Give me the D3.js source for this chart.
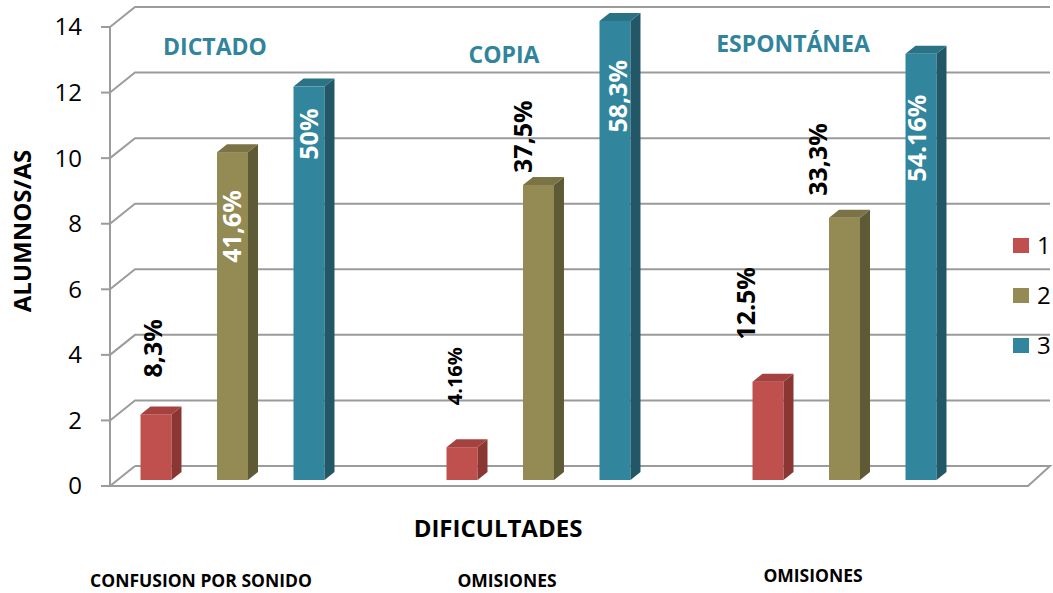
<!DOCTYPE html>
<html>
<head>
<meta charset="utf-8">
<script src="https://cdn.jsdelivr.net/npm/d3@7"></script>
<style>
  body { margin: 0; background: #fff; }
  text { font-family: "Open Sans", sans-serif; }
</style>
</head>
<body>
<div id="chart"></div>
<script>
// data
const categories = ["DICTADO", "COPIA", "ESPONTÁNEA"];
const difficulties = ["CONFUSION POR SONIDO", "OMISIONES", "OMISIONES"];
const seriesNames = ["1", "2", "3"];
const series1 = [2, 1, 3];
const series2 = [10, 9, 8];
const series3 = [12, 14, 13];
const labels1 = ["8,3%", "4.16%", "12.5%"];
const labels2 = ["41,6%", "37,5%", "33,3%"];
const labels3 = ["50%", "58,3%", "54.16%"];
const yTicks = [0, 2, 4, 6, 8, 10, 12, 14];

// label placement (manual, like the original sheet)
const labelInside = [[false, false, false], [true, false, false], [true, true, true]];
const labelGap = [[37, 42, 42], [38, 12, 22], [22, 39, 41]];
const labelDx = [[-3, -7, -22], [0, -15, -26], [0, 3, -4]];
const labelSize = [[25, 20, 25], [25, 25, 25], [25, 25, 25]];
const catLabelDx = [-10, -27, -44];
const catLabelY = [55, 63, 52];
const diffLabelY = [587, 587, 582];

const colors = [
  { front: "#C0504D", side: "#8A3734", top: "#A5423F" },
  { front: "#948A54", side: "#5F5A36", top: "#7B7345" },
  { front: "#31859C", side: "#215766", top: "#2A7386" }
];

const width = 1053, height = 593;
const depthX = 25, depthY = -20;
const floorLeft = 110, floorRight = 1028;

const svg = d3.select("#chart").append("svg")
  .attr("width", width)
  .attr("height", height);

const y = d3.scaleLinear().domain([0, 14]).range([486, 27]);
const xCat = d3.scaleBand().domain(categories).range([72, 990]);
const xSer = d3.scaleBand().domain(seriesNames).range([-137.5, 137.5]).padding(0.595);

const grid = svg.append("g").attr("fill", "none").attr("stroke", "#9b9b9b").attr("stroke-width", 2);

// back wall gridlines with the left wall diagonal
yTicks.forEach(function (t) {
  if (t === 0) return;
  grid.append("path").attr("d", d3.line()([
    [floorLeft, y(t)], [floorLeft + depthX, y(t) + depthY], [width - 3, y(t) + depthY]
  ]));
});
// floor
grid.append("path").attr("d", d3.line()([
  [floorLeft + depthX, y(0) + depthY], [width - 3, y(0) + depthY], [floorRight, y(0)], [floorLeft, y(0)], [floorLeft + depthX, y(0) + depthY]
]));
// axis line and ticks
grid.append("path").attr("d", d3.line()([[floorLeft, y(14)], [floorLeft, y(0)]]));
yTicks.forEach(function (t) {
  grid.append("path").attr("d", d3.line()([[floorLeft - 9, y(t)], [floorLeft, y(t)]]));
});

svg.append("g").selectAll("text").data(yTicks).enter().append("text")
  .attr("x", 82)
  .attr("y", function (d) { return y(d); })
  .attr("dy", "0.35em")
  .attr("text-anchor", "end")
  .attr("font-size", 24)
  .attr("fill", "#000")
  .text(function (d) { return d; });

// bars
const allSeries = [series1, series2, series3];
const allLabels = [labels1, labels2, labels3];
const barShiftX = 0.3 * depthX, barShiftY = 0.3 * depthY;
const barDx = 0.4 * depthX, barDy = 0.4 * depthY;
const bw = xSer.bandwidth();
const base = y(0) + barShiftY;

const bars = [];
allSeries.forEach(function (vals, s) {
  vals.forEach(function (v, c) {
    const cx = xCat(categories[c]) + xCat.bandwidth() / 2;
    bars.push({
      s: s, c: c, value: v, label: allLabels[s][c],
      x: cx + xSer(seriesNames[s]) + barShiftX,
      top: y(v) + barShiftY
    });
  });
});

const barG = svg.append("g").selectAll("g").data(bars).enter().append("g");

barG.append("rect")
  .attr("x", function (d) { return d.x; })
  .attr("y", function (d) { return d.top; })
  .attr("width", bw)
  .attr("height", function (d) { return base - d.top; })
  .attr("fill", function (d) { return colors[d.s].front; });

barG.append("path")
  .attr("d", function (d) {
    return d3.line()([[d.x + bw, d.top], [d.x + bw + barDx, d.top + barDy], [d.x + bw + barDx, base + barDy], [d.x + bw, base]]) + "Z";
  })
  .attr("fill", function (d) { return colors[d.s].side; });

barG.append("path")
  .attr("d", function (d) {
    return d3.line()([[d.x, d.top], [d.x + barDx, d.top + barDy], [d.x + bw + barDx, d.top + barDy], [d.x + bw, d.top]]) + "Z";
  })
  .attr("fill", function (d) { return colors[d.s].top; });

// value labels, rotated
svg.append("g").selectAll("text").data(bars).enter().append("text")
  .attr("transform", function (d) {
    const inside = labelInside[d.s][d.c];
    const lx = d.x + bw / 2 + labelDx[d.s][d.c];
    const ly = inside ? d.top + labelGap[d.s][d.c] : d.top - labelGap[d.s][d.c];
    return "translate(" + lx + "," + ly + ") rotate(-90)";
  })
  .attr("dy", "0.35em")
  .attr("text-anchor", function (d) { return labelInside[d.s][d.c] ? "end" : "start"; })
  .attr("font-size", function (d) { return labelSize[d.s][d.c]; })
  .attr("font-weight", "bold")
  .attr("fill", function (d) { return labelInside[d.s][d.c] ? "#fff" : "#000"; })
  .text(function (d) { return d.label; });

// category names at the top
svg.append("g").selectAll("text").data(categories).enter().append("text")
  .attr("x", function (d, i) { return xCat(d) + xCat.bandwidth() / 2 + catLabelDx[i]; })
  .attr("y", function (d, i) { return catLabelY[i]; })
  .attr("text-anchor", "middle")
  .attr("font-size", 23)
  .attr("font-weight", "bold")
  .attr("fill", "#31849B")
  .text(function (d) { return d; });

// difficulty names at the bottom
svg.append("g").selectAll("text").data(difficulties).enter().append("text")
  .attr("x", function (d, i) { return xCat(categories[i]) + xCat.bandwidth() / 2 - 24; })
  .attr("y", function (d, i) { return diffLabelY[i]; })
  .attr("text-anchor", "middle")
  .attr("font-size", 17.5)
  .attr("font-weight", "bold")
  .attr("fill", "#000")
  .text(function (d) { return d; });

// axis titles
svg.append("text")
  .attr("x", 498).attr("y", 537)
  .attr("text-anchor", "middle")
  .attr("font-size", 24)
  .attr("font-weight", "bold")
  .text("DIFICULTADES");

svg.append("text")
  .attr("transform", "translate(23,231) rotate(-90)")
  .attr("dy", "0.35em")
  .attr("text-anchor", "middle")
  .attr("font-size", 24)
  .attr("font-weight", "bold")
  .text("ALUMNOS/AS");

// legend
const legend = svg.append("g").selectAll("g").data(seriesNames).enter().append("g")
  .attr("transform", function (d, i) { return "translate(1013," + (238 + i * 50) + ")"; });
legend.append("rect")
  .attr("width", 16).attr("height", 15)
  .attr("fill", function (d, i) { return colors[i].front; });
legend.append("text")
  .attr("x", 24).attr("y", 7.5)
  .attr("dy", "0.35em")
  .attr("font-size", 24)
  .text(function (d) { return d; });
</script>
</body>
</html>
